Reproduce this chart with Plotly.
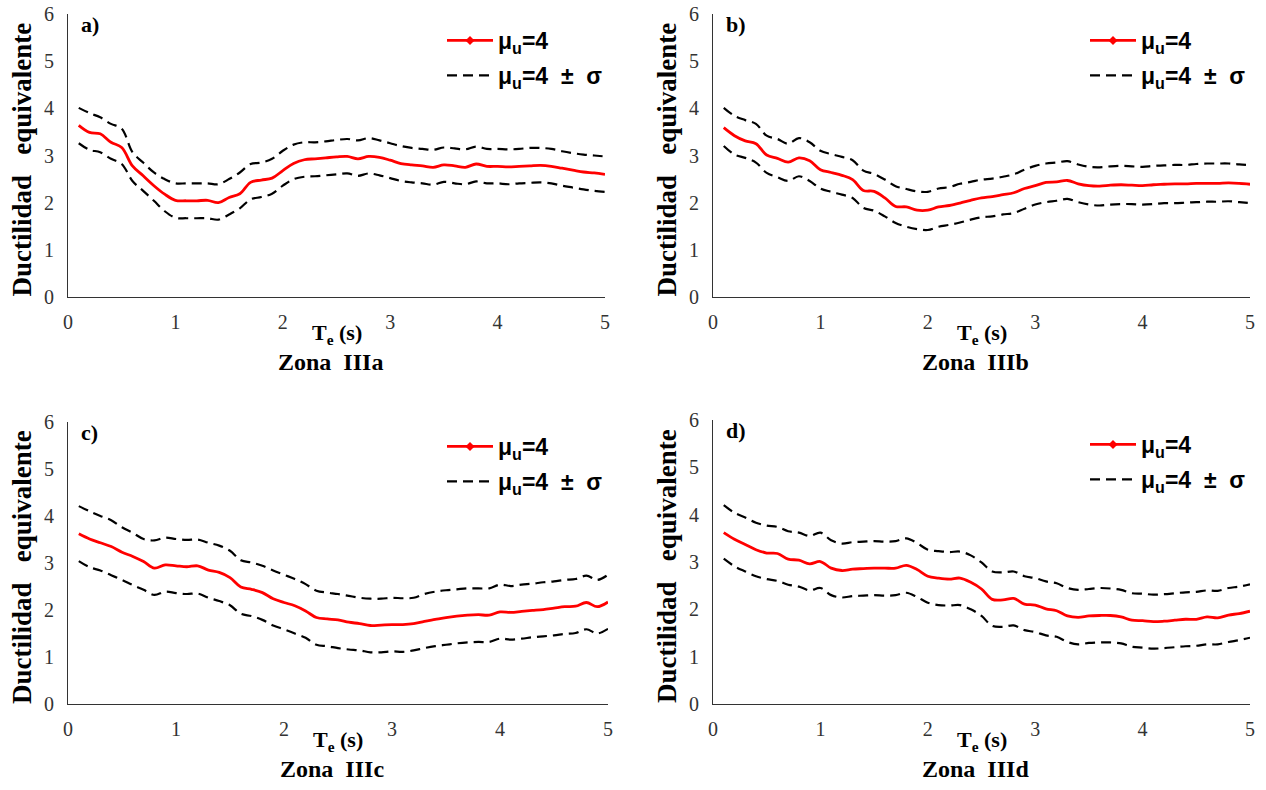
import plotly.graph_objects as go

W, H = 1266, 790

T = [0.1, 0.2, 0.3, 0.4, 0.5, 0.6, 0.7, 0.8, 0.9, 1.0,
     1.1, 1.2, 1.3, 1.4, 1.5, 1.6, 1.7, 1.8, 1.9, 2.0,
     2.1, 2.2, 2.3, 2.4, 2.5, 2.6, 2.7, 2.8, 2.9, 3.0,
     3.1, 3.2, 3.3, 3.4, 3.5, 3.6, 3.7, 3.8, 3.9, 4.0,
     4.1, 4.2, 4.3, 4.4, 4.5, 4.6, 4.7, 4.8, 4.9, 5.0]

# Zona IIIa
a_mean = [3.64, 3.49, 3.46, 3.28, 3.17, 2.78, 2.57, 2.36, 2.18, 2.05,
          2.04, 2.04, 2.05, 2.00, 2.11, 2.19, 2.43, 2.48, 2.52, 2.68,
          2.83, 2.91, 2.93, 2.95, 2.97, 2.98, 2.93, 2.98, 2.96, 2.90,
          2.83, 2.80, 2.78, 2.75, 2.80, 2.78, 2.75, 2.82, 2.77, 2.77,
          2.76, 2.77, 2.78, 2.79, 2.77, 2.73, 2.69, 2.65, 2.63, 2.60]
a_up = [4.01, 3.90, 3.81, 3.67, 3.57, 3.07, 2.85, 2.64, 2.50, 2.41,
        2.41, 2.41, 2.41, 2.39, 2.50, 2.64, 2.82, 2.85, 2.93, 3.10,
        3.23, 3.28, 3.28, 3.30, 3.33, 3.35, 3.32, 3.37, 3.32, 3.26,
        3.20, 3.16, 3.14, 3.12, 3.17, 3.15, 3.13, 3.19, 3.14, 3.14,
        3.13, 3.14, 3.16, 3.16, 3.14, 3.09, 3.05, 3.02, 3.00, 2.98]
a_lo = [3.26, 3.12, 3.07, 2.93, 2.82, 2.46, 2.25, 2.04, 1.82, 1.68,
        1.67, 1.67, 1.67, 1.64, 1.75, 1.88, 2.07, 2.12, 2.19, 2.36,
        2.50, 2.55, 2.56, 2.58, 2.60, 2.62, 2.57, 2.62, 2.58, 2.52,
        2.46, 2.43, 2.41, 2.38, 2.44, 2.41, 2.39, 2.45, 2.41, 2.41,
        2.39, 2.41, 2.42, 2.43, 2.41, 2.36, 2.32, 2.28, 2.25, 2.23]

# Zona IIIb
b_mean = [3.59, 3.42, 3.31, 3.25, 3.01, 2.94, 2.86, 2.95, 2.89, 2.70,
          2.64, 2.58, 2.49, 2.26, 2.24, 2.10, 1.92, 1.91, 1.84, 1.84,
          1.91, 1.94, 1.99, 2.05, 2.10, 2.13, 2.17, 2.21, 2.30, 2.36,
          2.43, 2.44, 2.47, 2.40, 2.36, 2.35, 2.37, 2.38, 2.37, 2.36,
          2.38, 2.39, 2.40, 2.40, 2.41, 2.41, 2.41, 2.42, 2.41, 2.39]
b_up = [4.01, 3.84, 3.75, 3.67, 3.42, 3.35, 3.25, 3.37, 3.28, 3.10,
        3.03, 2.97, 2.90, 2.68, 2.61, 2.49, 2.35, 2.29, 2.24, 2.23,
        2.30, 2.33, 2.40, 2.44, 2.49, 2.51, 2.55, 2.60, 2.70, 2.78,
        2.83, 2.85, 2.88, 2.81, 2.76, 2.75, 2.77, 2.78, 2.77, 2.76,
        2.78, 2.79, 2.80, 2.80, 2.82, 2.83, 2.83, 2.83, 2.81, 2.80]
b_lo = [3.20, 3.02, 2.95, 2.85, 2.63, 2.54, 2.46, 2.56, 2.46, 2.30,
        2.23, 2.17, 2.10, 1.89, 1.83, 1.71, 1.57, 1.49, 1.44, 1.42,
        1.49, 1.53, 1.58, 1.64, 1.69, 1.71, 1.75, 1.78, 1.87, 1.96,
        2.01, 2.04, 2.08, 2.01, 1.96, 1.94, 1.96, 1.97, 1.97, 1.96,
        1.97, 1.99, 1.99, 2.00, 2.01, 2.02, 2.02, 2.03, 2.01, 1.99]

# Zona IIIc
c_mean = [3.62, 3.51, 3.43, 3.35, 3.23, 3.14, 3.03, 2.89, 2.96, 2.94,
          2.92, 2.94, 2.85, 2.80, 2.69, 2.49, 2.44, 2.37, 2.24, 2.16,
          2.09, 1.98, 1.84, 1.81, 1.79, 1.74, 1.71, 1.67, 1.68, 1.69,
          1.69, 1.71, 1.76, 1.80, 1.84, 1.87, 1.89, 1.90, 1.89, 1.96,
          1.95, 1.97, 1.99, 2.01, 2.04, 2.07, 2.08, 2.16, 2.07, 2.17]
c_up = [4.21, 4.10, 4.00, 3.91, 3.76, 3.64, 3.51, 3.48, 3.54, 3.51,
        3.49, 3.50, 3.43, 3.37, 3.26, 3.06, 3.01, 2.94, 2.84, 2.75,
        2.66, 2.55, 2.41, 2.37, 2.34, 2.30, 2.26, 2.24, 2.24, 2.26,
        2.25, 2.26, 2.34, 2.39, 2.42, 2.44, 2.46, 2.46, 2.46, 2.54,
        2.51, 2.54, 2.56, 2.59, 2.61, 2.64, 2.66, 2.73, 2.64, 2.75]
c_lo = [3.04, 2.91, 2.84, 2.74, 2.64, 2.53, 2.43, 2.32, 2.39, 2.36,
        2.34, 2.35, 2.26, 2.19, 2.10, 1.92, 1.87, 1.79, 1.67, 1.59,
        1.50, 1.41, 1.26, 1.23, 1.19, 1.16, 1.14, 1.10, 1.10, 1.12,
        1.11, 1.14, 1.19, 1.23, 1.26, 1.29, 1.31, 1.32, 1.32, 1.39,
        1.37, 1.39, 1.42, 1.44, 1.46, 1.49, 1.51, 1.59, 1.50, 1.60]

# Zona IIId
d_mean = [3.62, 3.48, 3.37, 3.26, 3.19, 3.18, 3.06, 3.04, 2.96, 3.01,
          2.87, 2.82, 2.85, 2.86, 2.87, 2.87, 2.87, 2.93, 2.84, 2.70,
          2.66, 2.64, 2.66, 2.57, 2.43, 2.21, 2.20, 2.23, 2.11, 2.09,
          2.01, 1.97, 1.86, 1.83, 1.86, 1.87, 1.87, 1.84, 1.77, 1.76,
          1.74, 1.75, 1.77, 1.79, 1.79, 1.84, 1.82, 1.88, 1.91, 1.96]
d_up = [4.20, 4.04, 3.94, 3.83, 3.77, 3.74, 3.65, 3.62, 3.55, 3.62,
        3.46, 3.39, 3.42, 3.43, 3.44, 3.43, 3.44, 3.50, 3.40, 3.26,
        3.23, 3.21, 3.22, 3.14, 2.99, 2.80, 2.78, 2.80, 2.70, 2.66,
        2.59, 2.55, 2.45, 2.41, 2.43, 2.45, 2.44, 2.41, 2.34, 2.33,
        2.31, 2.32, 2.34, 2.36, 2.37, 2.40, 2.39, 2.45, 2.48, 2.53]
d_lo = [3.07, 2.91, 2.80, 2.70, 2.64, 2.60, 2.52, 2.48, 2.40, 2.45,
        2.30, 2.25, 2.28, 2.29, 2.30, 2.29, 2.30, 2.35, 2.26, 2.14,
        2.09, 2.08, 2.09, 2.00, 1.86, 1.65, 1.63, 1.66, 1.56, 1.52,
        1.45, 1.42, 1.31, 1.26, 1.29, 1.30, 1.30, 1.28, 1.21, 1.19,
        1.17, 1.18, 1.20, 1.22, 1.23, 1.26, 1.26, 1.31, 1.35, 1.40]

NB = "\u00a0"
panels = [
    dict(mean=a_mean, up=a_up, lo=a_lo, label="a)", zona="Zona" + NB * 2 + "IIIa"),
    dict(mean=b_mean, up=b_up, lo=b_lo, label="b)", zona="Zona" + NB * 2 + "IIIb"),
    dict(mean=c_mean, up=c_up, lo=c_lo, label="c)", zona="Zona" + NB * 2 + "IIIc"),
    dict(mean=d_mean, up=d_up, lo=d_lo, label="d)", zona="Zona" + NB * 2 + "IIId"),
]

# layout geometry in pixels (left, right, top, bottom of plot area)
boxes = [(68, 605, 14, 297), (713, 1250, 14, 297),
         (68, 608, 422, 704), (713, 1250, 420, 704)]
legend_pos = [(442, 19), (1085, 19), (442, 425), (1085, 423)]

def fx(p):
    return p / W

def fy(p):
    return 1 - p / H

SERIF = "Liberation Serif"
SANS = "Liberation Sans"
RED = "#FF0000"

fig = go.Figure()
annotations = []
layout = {}

for i, (p, box, lp) in enumerate(zip(panels, boxes, legend_pos)):
    n = "" if i == 0 else str(i + 1)
    xa, ya = "x" + n, "y" + n
    leg = "legend" + n
    L, R, Tp, B = box

    fig.add_trace(go.Scatter(x=T, y=p["mean"], xaxis=xa, yaxis=ya, mode="lines",
                             line=dict(color=RED, width=2.8, shape="spline"),
                             showlegend=False))
    fig.add_trace(go.Scatter(x=[None], y=[None], xaxis=xa, yaxis=ya,
                             mode="lines+markers", name="μ<sub>u</sub>=4",
                             line=dict(color=RED, width=2.8),
                             marker=dict(symbol="diamond", size=7, color=RED),
                             legend=leg, legendgroup="m" + n))
    fig.add_trace(go.Scatter(x=T, y=p["up"], xaxis=xa, yaxis=ya, mode="lines",
                             name="μ<sub>u</sub>=4" + NB * 2 + "±" + NB * 2 + "σ",
                             line=dict(color="black", width=2.2, dash="10px,6px", shape="spline"),
                             legend=leg, legendgroup="s" + n))
    fig.add_trace(go.Scatter(x=T, y=p["lo"], xaxis=xa, yaxis=ya, mode="lines",
                             line=dict(color="black", width=2.2, dash="10px,6px", shape="spline"),
                             showlegend=False, legendgroup="s" + n))

    layout["xaxis" + n] = dict(domain=[fx(L), fx(R)], range=[0, 5], anchor=ya,
                               tickvals=[0, 1, 2, 3, 4, 5], showgrid=False, zeroline=False,
                               showline=True, linecolor="#333", linewidth=1.2, ticks="",
                               ticklabelstandoff=7, automargin=False,
                               tickfont=dict(family=SERIF, size=20, color="#333"))
    layout["yaxis" + n] = dict(domain=[fy(B), fy(Tp)], range=[0, 6], anchor=xa,
                               tickvals=[0, 1, 2, 3, 4, 5, 6], showgrid=False, zeroline=False,
                               showline=True, linecolor="#333", linewidth=1.2, ticks="",
                               ticklabelstandoff=9, automargin=False,
                               tickfont=dict(family=SERIF, size=20, color="#333"))
    layout[leg] = dict(x=fx(lp[0]), y=fy(lp[1]), xanchor="left", yanchor="top",
                       xref="paper", yref="paper", bgcolor="rgba(0,0,0,0)",
                       font=dict(family=SANS, size=23, color="black", weight="bold"),
                       traceorder="grouped", tracegroupgap=2, itemwidth=46)

    cx = (L + R) / 2
    annotations.append(dict(text="<b>" + p["label"] + "</b>", x=fx(L + 11), y=fy(Tp + 10),
                            xref="paper", yref="paper", xanchor="left", yanchor="middle",
                            showarrow=False, font=dict(family=SERIF, size=22, color="black")))
    annotations.append(dict(text="<b>T<sub>e</sub> (s)</b>", x=fx(cx), y=fy(B + 37),
                            xref="paper", yref="paper", xanchor="center", yanchor="middle",
                            showarrow=False, font=dict(family=SERIF, size=22, color="black")))
    annotations.append(dict(text="<b>" + p["zona"] + "</b>", x=fx(cx - 6), y=fy(B + 65),
                            xref="paper", yref="paper", xanchor="center", yanchor="middle",
                            showarrow=False, font=dict(family=SERIF, size=24, color="black")))
    annotations.append(dict(text="<b>Ductilidad" + NB * 3 + "equivalente</b>",
                            x=fx(L - 46), y=fy((Tp + B) / 2 + 4),
                            xref="paper", yref="paper", xanchor="center", yanchor="middle",
                            textangle=-90, showarrow=False,
                            font=dict(family=SERIF, size=27, color="black")))

fig.update_layout(width=W, height=H, margin=dict(l=0, r=0, t=0, b=0, autoexpand=False),
                  template="none",
                  paper_bgcolor="white", plot_bgcolor="white",
                  annotations=annotations, **layout)

fig.write_html("out.html")
